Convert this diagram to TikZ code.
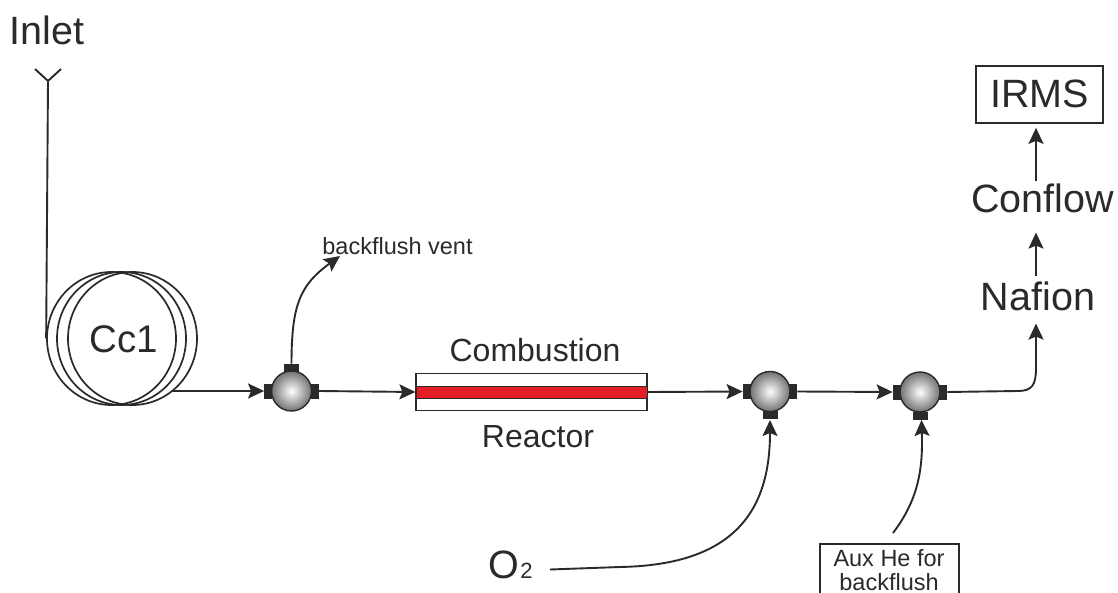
\documentclass[tikz,border=0pt]{standalone}
\usepackage{fontspec}
\setmainfont{Liberation Sans}
\usetikzlibrary{arrows.meta, shapes.geometric}
\definecolor{inkgrey}{HTML}{2B2A29}
\definecolor{reactorred}{HTML}{E31E26}
\tikzset{
  pipe/.style={draw=inkgrey, line width=1.9},
  flow/.style={pipe, -{Stealth[length=16, width=15, inset=3]}},
  coilring/.style={ellipse, draw=inkgrey, line width=1.7, minimum width=129, minimum height=133, inner sep=0},
  valve/.style={circle, draw=inkgrey, line width=1.4, minimum size=40, inner sep=0, inner color=white, outer color=black!55},
  porth/.style={fill=inkgrey, minimum width=8, minimum height=15, inner sep=0},
  portv/.style={fill=inkgrey, minimum width=15, minimum height=8, inner sep=0},
  bigtext/.style={inner sep=0, text=inkgrey, anchor=base, font=\fontsize{39.5}{39.5}\selectfont},
  midtext/.style={inner sep=0, text=inkgrey, anchor=base, font=\fontsize{32}{32}\selectfont},
  smalltext/.style={inner sep=0, text=inkgrey, anchor=base, font=\fontsize{23.5}{23.5}\selectfont},
}
\begin{document}
\begin{tikzpicture}[x=1pt, y=-1pt]
\useasboundingbox (0,0) rectangle (1118,593);

% column and coil
\node[coilring] (coila) at (111.5,338.5) {};
\node[coilring] (coilb) at (121.5,338.5) {};
\node[coilring] (coilc) at (132.5,338.5) {};
\node[bigtext, font=\fontsize{38.5}{38.5}\selectfont] (cc) at (124,352) {Cc1};
\node[bigtext] (inlet) at (47,45) {Inlet};
\coordinate (tip) at (48,81);
\coordinate (coilout) at (172,391);
\draw[pipe] (35,69) -- (tip) -- (61,69);
\draw[pipe] (tip) -- (coila.west);

% valves with their ports
\foreach \name/\x/\y in {vone/291.5/391, vtwo/770/391.5, vthree/920/392} {
  \node[porth, anchor=east] (\name l) at (\x-19,\y) {};
  \node[porth, anchor=west] (\name r) at (\x+19,\y) {};
  \node[valve] (\name) at (\x,\y) {};
}
\node[portv, anchor=south] (vonet) at (291.5,372) {};
\node[portv, anchor=north] (vtwob) at (770,411) {};
\node[portv, anchor=north] (vthreeb) at (920,411.5) {};

% reactor
\node[draw=inkgrey, line width=1.2, fill=white, minimum width=231, minimum height=37, inner sep=0] (reactor) at (531.5,392) {};
\node[draw=inkgrey, line width=1, fill=reactorred, minimum width=231, minimum height=12, inner sep=0] (core) at (reactor.center) {};
\node[midtext] (combustion) at (535,361.5) {Combustion};
\node[midtext] (reactorlbl) at (538,447) {Reactor};

% labels on the right
\node[bigtext] (nafion) at (1038,310) {Nafion};
\node[bigtext] (conflow) at (1042.5,213) {Conflow};
\node[draw=inkgrey, line width=1.7, minimum width=127, minimum height=57, inner sep=0] (irms) at (1039.5,94.5) {};
\node[bigtext] (irmstxt) at (1039.5,108) {IRMS};
\coordinate (riser) at (1036,0);

% lower labels
\node[bigtext, anchor=base west] (otwo) at (488,578) {O\kern1.5pt\fontsize{22}{22}\selectfont 2};
\coordinate (otwoend) at (550,569.5);
\node[minimum width=139, minimum height=49, inner sep=0] (aux) at (889.5,568.5) {};
\draw[inkgrey, line width=1.6] (aux.south west) -- (aux.north west) -- (aux.north east) -- (aux.south east);
\node[smalltext] (auxa) at (889,566) {Aux He for};
\node[smalltext] (auxb) at (889,590) {backflush};
\coordinate (auxend) at (893,533);
\node[smalltext] (vent) at (397.5,255) {backflush vent};
\coordinate (venttip) at (340,256);

% connectors
\draw[flow] (coilout) -- (vonel.west);
\draw[flow] (voner.east) -- (reactor.west);
\draw[flow] (reactor.east) -- (vtwol.west);
\draw[flow] (vtwor.east) -- (vthreel.west);
\draw[flow] (vonet.north) .. controls (291.5,305) and (300,285) .. (venttip);
\draw[flow, shorten >=13] (vthreer.east) -- (1018,391) .. controls (1032,391) and (1036,385) .. (1036,368) -- (riser |- nafion.south);
\draw[flow, shorten <=5, shorten >=19] (riser |- nafion.north) -- (riser |- conflow.south);
\draw[flow, shorten <=3, shorten >=4] (riser |- conflow.north) -- (riser |- irms.south);
\draw[flow] (otwoend) -- (620,567) .. controls (735,565) and (770,510) .. (770,420);
\draw[flow] (auxend) .. controls (918,500) and (923,470) .. (921.5,420);
\end{tikzpicture}
\end{document}
